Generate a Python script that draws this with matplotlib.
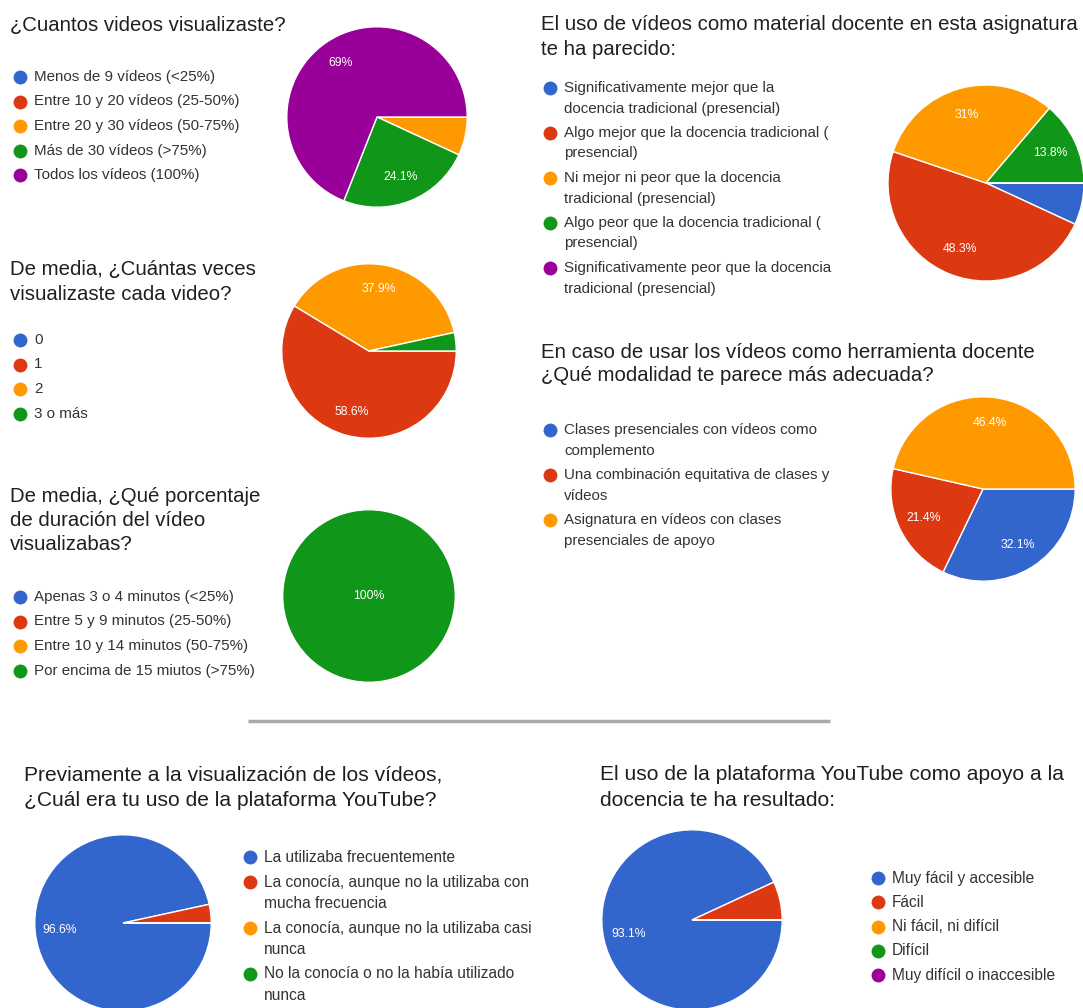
import matplotlib
matplotlib.use("Agg")
from matplotlib import pyplot as plt

W, H = 1083, 1008

BLUE = "#3366CC"
RED = "#DC3912"
ORANGE = "#FF9900"
GREEN = "#109618"
PURPLE = "#990099"

# --- datos de la encuesta (porcentajes) ---
cuantos_labels = ["Menos de 9 vídeos (<25%)", "Entre 10 y 20 vídeos (25-50%)",
                  "Entre 20 y 30 vídeos (50-75%)", "Más de 30 vídeos (>75%)",
                  "Todos los vídeos (100%)"]
cuantos_vals = [0, 0, 6.9, 24.1, 69]

veces_labels = ["0", "1", "2", "3 o más"]
veces_vals = [0, 58.6, 37.9, 3.4]

duracion_labels = ["Apenas 3 o 4 minutos (<25%)", "Entre 5 y 9 minutos (25-50%)",
                   "Entre 10 y 14 minutos (50-75%)", "Por encima de 15 miutos (>75%)"]
duracion_vals = [0, 0, 0, 100]

material_labels = ["Significativamente mejor que la\ndocencia tradicional (presencial)",
                   "Algo mejor que la docencia tradicional (\npresencial)",
                   "Ni mejor ni peor que la docencia\ntradicional (presencial)",
                   "Algo peor que la docencia tradicional (\npresencial)",
                   "Significativamente peor que la docencia\ntradicional (presencial)"]
material_vals = [6.9, 48.3, 31, 13.8, 0]

modalidad_labels = ["Clases presenciales con vídeos como\ncomplemento",
                    "Una combinación equitativa de clases y\nvídeos",
                    "Asignatura en vídeos con clases\npresenciales de apoyo"]
modalidad_vals = [32.1, 21.4, 46.4]

youtube_prev_labels = ["La utilizaba frecuentemente",
                       "La conocía, aunque no la utilizaba con\nmucha frecuencia",
                       "La conocía, aunque no la utilizaba casi\nnunca",
                       "No la conocía o no la había utilizado\nnunca"]
youtube_prev_vals = [96.6, 3.4, 0, 0]

youtube_uso_labels = ["Muy fácil y accesible", "Fácil", "Ni fácil, ni difícil",
                      "Difícil", "Muy difícil o inaccesible"]
youtube_uso_vals = [93.1, 6.9, 0, 0, 0]

COLORS = [BLUE, RED, ORANGE, GREEN, PURPLE]

plt.rcParams['font.family'] = ['Liberation Sans', 'DejaVu Sans']

fig = plt.figure(figsize=(W / 100, H / 100), dpi=100)
fig.patch.set_facecolor("white")

# capa de fondo en pixeles para textos y leyendas
bg = fig.add_axes([0, 0, 1, 1])
bg.set_xlim(0, W)
bg.set_ylim(H, 0)
bg.axis("off")


def titulo(x, y, lineas, size=14.7, paso=24.5):
    for i, t in enumerate(lineas):
        bg.text(x, y + i * paso, t, fontsize=size, color="#1f1f1f",
                va="center", ha="left")


def leyenda(x, y, etiquetas, paso_item=24.5, paso_linea=20.5, size=10.9):
    for i, lab in enumerate(etiquetas):
        bg.scatter([x], [y], s=100, color=COLORS[i], zorder=3, linewidths=0)
        lineas = lab.split("\n")
        for j, linea in enumerate(lineas):
            bg.text(x + 14, y + j * paso_linea, linea, fontsize=size,
                    color="#333333", va="center", ha="left")
        y += paso_item + (len(lineas) - 1) * paso_linea


def tarta(cx, cy, r, vals, pctdist=0.72):
    ax = fig.add_axes([(cx - r) / W, 1 - (cy + r) / H, 2 * r / W, 2 * r / H])
    it = iter(vals)

    def etiqueta(_):
        v = next(it)
        return f"{v:g}%" if v >= 10 else ""

    ax.pie(vals, colors=COLORS[:len(vals)], startangle=0, counterclock=False,
           radius=1, autopct=etiqueta, pctdistance=pctdist,
           wedgeprops=dict(edgecolor="white", linewidth=1.0),
           textprops=dict(color="white", fontsize=8.8))
    ax.set_xlim(-1.02, 1.02)
    ax.set_ylim(-1.02, 1.02)
    ax.set_aspect("equal")
    ax.axis("off")
    return ax


# columna izquierda
titulo(10, 25, ["¿Cuantos videos visualizaste?"])
leyenda(20, 77, cuantos_labels)
tarta(377, 117, 92, cuantos_vals)

titulo(10, 270, ["De media, ¿Cuántas veces", "visualizaste cada video?"])
leyenda(20, 340, veces_labels)
tarta(369, 351, 89, veces_vals)

titulo(10, 496, ["De media, ¿Qué porcentaje", "de duración del vídeo", "visualizabas?"])
leyenda(20, 597, duracion_labels)
tarta(369, 596, 88, duracion_vals, pctdist=0)

# columna derecha
titulo(541, 25, ["El uso de vídeos como material docente en esta asignatura",
                 "te ha parecido:"])
leyenda(550, 88, material_labels)
tarta(986, 183, 100, material_vals)

titulo(541, 352, ["En caso de usar los vídeos como herramienta docente",
                  "¿Qué modalidad te parece más adecuada?"], paso=23.5)
leyenda(550, 430, modalidad_labels)
tarta(983, 489, 94, modalidad_vals)

# separador
bg.plot([248, 830], [721, 721], color="#aaaaaa", linewidth=2.5, solid_capstyle="butt")

# parte inferior
titulo(24, 775, ["Previamente a la visualización de los vídeos,",
                 "¿Cuál era tu uso de la plataforma YouTube?"], size=15.1, paso=26)
leyenda(250, 857, youtube_prev_labels, paso_item=25, paso_linea=21, size=11.2)
tarta(123, 923, 90, youtube_prev_vals)

titulo(600, 775, ["El uso de la plataforma YouTube como apoyo a la",
                  "docencia te ha resultado:"], size=15.1, paso=26)
leyenda(878, 878, youtube_uso_labels, paso_item=24.3, size=11.2)
tarta(692, 920, 92, youtube_uso_vals)

fig.savefig("out.png", dpi=100, facecolor="white")
